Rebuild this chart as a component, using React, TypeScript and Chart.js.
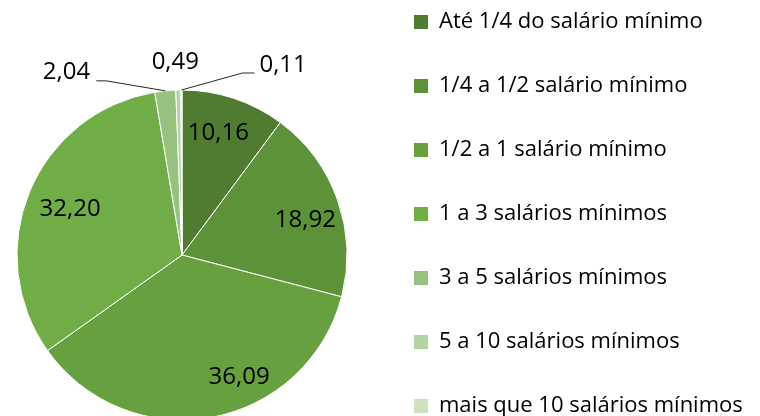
import { useEffect, useRef } from 'react';
import { Chart, registerables } from 'chart.js';

Chart.register(...registerables);

const categories = [
  'Até 1/4 do salário mínimo',
  '1/4 a 1/2 salário mínimo',
  '1/2 a 1 salário mínimo',
  '1 a 3 salários mínimos',
  '3 a 5 salários mínimos',
  '5 a 10 salários mínimos',
  'mais que 10 salários mínimos',
];
const shares = [10.16, 18.92, 36.09, 32.2, 2.04, 0.49, 0.11];
const sliceColors = ['#507c31', '#5c9238', '#66a03f', '#70ad47', '#97c17f', '#b4d3a3', '#cbe1c0'];

type LabelStyle =
  | { type: 'in'; k: number; dx: number; dy: number }
  | { type: 'near'; dx: number; dy: number }
  | { type: 'out'; elbow: [number, number]; tail: number; text: [number, number]; align: CanvasTextAlign };

const labelStyles: LabelStyle[] = [
  { type: 'in', k: 0.78, dx: -4, dy: 0 },
  { type: 'in', k: 0.78, dx: 2, dy: 8 },
  { type: 'in', k: 0.78, dx: 34, dy: -4 },
  { type: 'in', k: 0.78, dx: 7, dy: 3 },
  { type: 'out', elbow: [-59, -10], tail: -10, text: [-6, -9], align: 'right' },
  { type: 'near', dx: -3, dy: -28 },
  { type: 'out', elbow: [61, -17], tail: 12, text: [5, -8], align: 'left' },
];

const FONT = "'Open Sans', 'Noto Sans', sans-serif";
const LEGEND_SIZE = 22;
const LEGEND_PAD = 42;
const BOX = 14;

const fmt = (v: number) => v.toFixed(2).replace('.', ',');

const labelPlugin = {
  id: 'sliceLabels',
  afterDatasetsDraw(chart: any) {
    const ctx = chart.ctx as CanvasRenderingContext2D;
    const meta = chart.getDatasetMeta(0);
    ctx.save();
    ctx.font = `24px ${FONT}`;
    ctx.fillStyle = '#000';
    ctx.textBaseline = 'middle';
    meta.data.forEach((arc: any, i: number) => {
      const { x, y, startAngle, endAngle, outerRadius } = arc.getProps(
        ['x', 'y', 'startAngle', 'endAngle', 'outerRadius'],
        true
      );
      const mid = (startAngle + endAngle) / 2;
      const cx = Math.cos(mid);
      const cy = Math.sin(mid);
      const st = labelStyles[i];
      const txt = fmt(shares[i]);
      if (st.type === 'in') {
        ctx.textAlign = 'center';
        ctx.fillText(txt, x + cx * outerRadius * st.k + st.dx, y + cy * outerRadius * st.k + st.dy);
      } else if (st.type === 'near') {
        ctx.textAlign = 'center';
        ctx.fillText(txt, x + cx * outerRadius + st.dx, y + cy * outerRadius + st.dy);
      } else {
        const ex = x + cx * outerRadius;
        const ey = y + cy * outerRadius;
        const bx = ex + st.elbow[0];
        const by = ey + st.elbow[1];
        const tx = bx + st.tail;
        ctx.strokeStyle = '#262626';
        ctx.lineWidth = 1;
        ctx.beginPath();
        ctx.moveTo(ex, ey);
        ctx.lineTo(bx, by);
        ctx.lineTo(tx, by);
        ctx.stroke();
        ctx.textAlign = st.align;
        ctx.fillText(txt, tx + st.text[0], by + st.text[1]);
      }
    });
    ctx.restore();
  },
};

export default function App() {
  const ref = useRef<HTMLCanvasElement>(null);

  const measure = document.createElement('canvas').getContext('2d')!;
  measure.font = `${LEGEND_SIZE}px ${FONT}`;
  const maxText = Math.max(...categories.map((c) => measure.measureText(c).width));
  const legendW = LEGEND_PAD + BOX + LEGEND_SIZE / 2 + maxText + 7;
  const areaW = 382;
  const W = Math.round(areaW + legendW);
  const H = 572;

  useEffect(() => {
    if (!ref.current) return;
    Chart.defaults.font.family = FONT;
    const chart = new Chart(ref.current, {
      type: 'pie',
      data: {
        labels: categories,
        datasets: [
          {
            data: shares,
            backgroundColor: sliceColors,
            borderColor: '#ffffff',
            borderWidth: 1,
            radius: 165,
          } as any,
        ],
      },
      options: {
        responsive: false,
        animation: false,
        layout: { padding: 0 },
        plugins: {
          tooltip: { enabled: false },
          legend: {
            position: 'right',
            align: 'start',
            labels: {
              boxWidth: BOX,
              boxHeight: BOX,
              padding: LEGEND_PAD,
              color: '#000',
              font: { size: LEGEND_SIZE, family: FONT },
              generateLabels: (c: any) =>
                Chart.overrides.pie.plugins.legend.labels
                  .generateLabels(c)
                  .map((l: any) => ({ ...l, lineWidth: 0, strokeStyle: 'transparent' })),
            },
          },
        },
      },
      plugins: [labelPlugin],
    });
    return () => chart.destroy();
  }, []);

  return (
    <div style={{ position: 'absolute', left: -8, top: -31, width: W, height: H }}>
      <canvas ref={ref} width={W} height={H} style={{ width: W, height: H, display: 'block' }} />
    </div>
  );
}
